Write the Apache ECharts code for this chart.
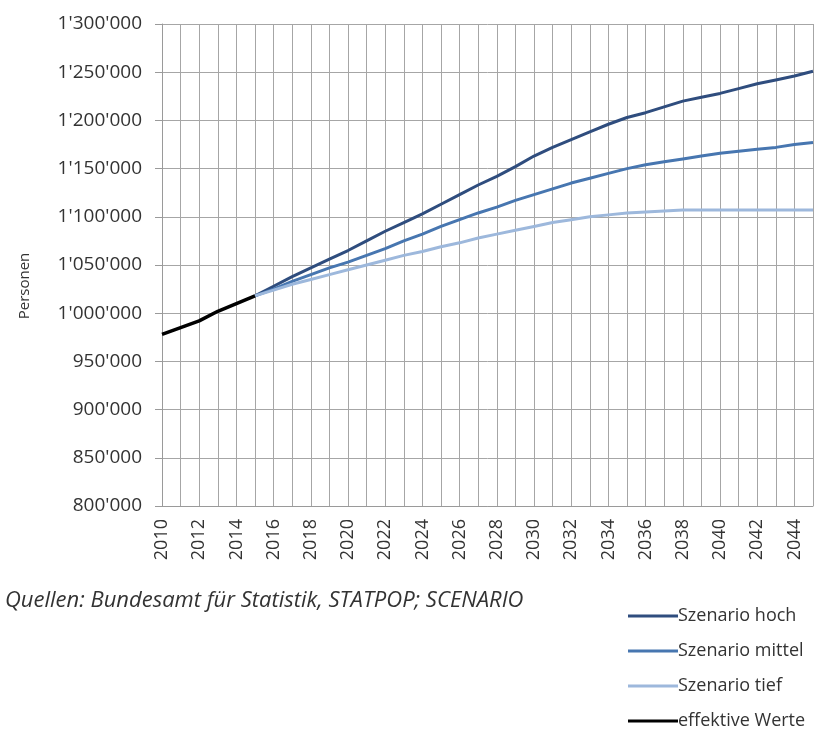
<!DOCTYPE html>
<html>
<head>
<meta charset="utf-8">
<script src="https://cdn.jsdelivr.net/npm/echarts@6/dist/echarts.min.js"></script>
<style>
  html, body { margin: 0; padding: 0; background: #fff; }
  #chart { width: 820px; height: 731px; }
</style>
</head>
<body>
<div id="chart"></div>
<script>
// Jahre 2010 - 2045
var years = [];
for (var y = 2010; y <= 2045; y++) years.push(String(y));

// effektive Werte 2010-2015
var effektiv = [978000, 985000, 992000, 1002000, 1010000, 1018000];

// Szenarien ab 2015
var hoch = [1018000, 1028000, 1038000, 1047000, 1056000, 1065000, 1075000, 1085000, 1094000, 1103000,
  1113000, 1123000, 1133000, 1142000, 1152000, 1163000, 1172000, 1180000, 1188000, 1196000,
  1203000, 1208000, 1214000, 1220000, 1224000, 1228000, 1233000, 1238000, 1242000, 1246000, 1251000];
var mittel = [1018000, 1025000, 1033000, 1040000, 1047000, 1053000, 1060000, 1067000, 1075000, 1082000,
  1090000, 1097000, 1104000, 1110000, 1117000, 1123000, 1129000, 1135000, 1140000, 1145000,
  1150000, 1154000, 1157000, 1160000, 1163000, 1166000, 1168000, 1170000, 1172000, 1175000, 1177000];
var tief = [1018000, 1024000, 1030000, 1035000, 1040000, 1045000, 1050000, 1055000, 1060000, 1064000,
  1069000, 1073000, 1078000, 1082000, 1086000, 1090000, 1094000, 1097000, 1100000, 1102000,
  1104000, 1105000, 1106000, 1107000, 1107000, 1107000, 1107000, 1107000, 1107000, 1107000, 1107000];

function pad(arr, before) {
  var out = [];
  for (var i = 0; i < before; i++) out.push(null);
  return out.concat(arr);
}

function fmt(v) {
  return String(v).replace(/\B(?=(\d{3})+(?!\d))/g, "'");
}

var font = "Open Sans";
var myChart = echarts.init(document.getElementById("chart"));
var option = {
  animation: false,
  textStyle: { fontFamily: font },
  grid: { left: 162, right: 7, top: 24, bottom: 225 },
  legend: {
    orient: "vertical",
    left: 628,
    top: 605,
    height: 200,
    padding: 0,
    itemWidth: 50,
    itemHeight: 3,
    itemGap: 13,
    icon: "rect",
    textStyle: { fontSize: 18, color: "#333", padding: [0, 0, 0, -5], lineHeight: 22 },
    data: ["Szenario hoch", "Szenario mittel", "Szenario tief", "effektive Werte"]
  },
  graphic: [{
    type: "text",
    left: 5,
    top: 590,
    style: {
      text: "Quellen: Bundesamt für Statistik, STATPOP; SCENARIO",
      font: "italic 22px 'Open Sans'",
      fill: "#333"
    }
  }, {
    type: "text",
    x: 25,
    y: 286,
    rotation: Math.PI / 2,
    style: {
      text: "Personen",
      font: "15px 'Open Sans'",
      fill: "#333",
      align: "center",
      verticalAlign: "middle"
    }
  }],
  xAxis: {
    type: "category",
    data: years,
    boundaryGap: false,
    axisLine: { lineStyle: { color: "#9a9a9a" } },
    axisTick: { show: false },
    axisLabel: { interval: 1, rotate: 90, fontSize: 18, color: "#333", margin: 13 },
    splitLine: { show: true, interval: 0, lineStyle: { color: "#a6a6a6", width: 1 } }
  },
  yAxis: {
    type: "value",
    min: 800000,
    max: 1300000,
    interval: 50000,
    axisLine: { show: true, lineStyle: { color: "#9a9a9a" } },
    axisTick: { show: true, length: 7, lineStyle: { color: "#9a9a9a" } },
    axisLabel: { fontSize: 19, color: "#333", margin: 20, formatter: fmt },
    splitLine: { lineStyle: { color: "#a6a6a6", width: 1 } }
  },
  series: [
    { name: "Szenario hoch", type: "line", data: pad(hoch, 5), showSymbol: false,
      lineStyle: { width: 3, color: "#2f4d7e" }, itemStyle: { color: "#2f4d7e" } },
    { name: "Szenario mittel", type: "line", data: pad(mittel, 5), showSymbol: false,
      lineStyle: { width: 3, color: "#4776b0" }, itemStyle: { color: "#4776b0" } },
    { name: "Szenario tief", type: "line", data: pad(tief, 5), showSymbol: false,
      lineStyle: { width: 3, color: "#9db8dc" }, itemStyle: { color: "#9db8dc" } },
    { name: "effektive Werte", type: "line", data: effektiv, showSymbol: false,
      lineStyle: { width: 3.5, color: "#000" }, itemStyle: { color: "#000" } }
  ]
};
myChart.setOption(option);
</script>
</body>
</html>
